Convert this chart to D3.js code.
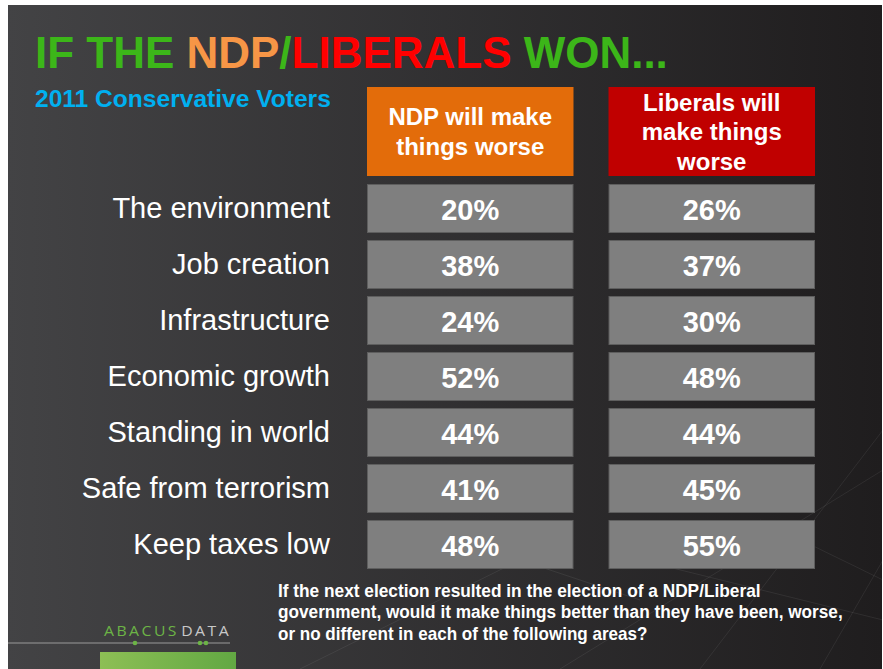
<!DOCTYPE html>
<html>
<head>
<meta charset="utf-8">
<script src="https://cdn.jsdelivr.net/npm/d3@7"></script>
<style>
  body { margin: 0; background: #fff; }
  svg { display: block; }
</style>
</head>
<body>
<div id="chart"></div>
<script>
// data
var categories = ["The environment", "Job creation", "Infrastructure", "Economic growth",
  "Standing in world", "Safe from terrorism", "Keep taxes low"];
var ndpWorse = [20, 38, 24, 52, 44, 41, 48];
var liberalWorse = [26, 37, 30, 48, 44, 45, 55];
var seriesKeys = ["ndp", "lib"];
var seriesHeaders = [["NDP will make", "things worse"], ["Liberals will", "make things", "worse"]];
var seriesColors = ["#e36c0a", "#c00000"];
var footerLines = ["If the next election resulted in the election of a NDP/Liberal",
  "government, would it make things better than they have been, worse,",
  "or no different in each of the following areas?"];

var svgWidth = 883;
var svgHeight = 669;
var font = "'Liberation Sans', Arial, sans-serif";

var svg = d3.select("#chart").append("svg")
  .attr("width", svgWidth)
  .attr("height", svgHeight);

// stretch/squeeze a text horizontally to a given width, around its anchor x
function fitWidth(sel, x, targetWidth) {
  var w = sel.node().getComputedTextLength();
  var s = targetWidth / w;
  sel.attr("transform", `translate(${x},0) scale(${s},1) translate(${-x},0)`);
}

// background gradient
var defs = svg.append("defs");
var bg = defs.append("linearGradient").attr("id", "bg").attr("x1", 0).attr("x2", 1).attr("y1", 0).attr("y2", 0);
bg.append("stop").attr("offset", "0%").attr("stop-color", "#434345");
bg.append("stop").attr("offset", "100%").attr("stop-color", "#1f1d1e");
var logoGrad = defs.append("linearGradient").attr("id", "logoGrad").attr("x1", 0).attr("x2", 1);
logoGrad.append("stop").attr("offset", "0%").attr("stop-color", "#8dbf55");
logoGrad.append("stop").attr("offset", "100%").attr("stop-color", "#62a843");

svg.append("rect")
  .attr("x", 8).attr("y", 5)
  .attr("width", svgWidth - 9).attr("height", svgHeight - 5)
  .attr("fill", "url(#bg)");

// faint network lines in the background
var netLines = [[560, 669, 883, 470], [700, 669, 883, 430], [820, 669, 883, 560],
  [640, 560, 883, 620], [300, 669, 520, 560], [760, 520, 883, 580], [520, 560, 640, 600]];
svg.append("g").selectAll("line")
  .data(netLines)
  .enter().append("line")
  .attr("x1", d => d[0]).attr("y1", d => d[1])
  .attr("x2", d => d[2]).attr("y2", d => d[3])
  .attr("stroke", "#ffffff").attr("stroke-opacity", 0.07).attr("stroke-width", 1);

// title
var title = svg.append("text")
  .attr("x", 35).attr("y", 68)
  .attr("font-family", font)
  .attr("font-weight", "bold")
  .attr("font-size", 44);
title.append("tspan").attr("fill", "#3cb619").text("IF THE ");
title.append("tspan").attr("fill", "#f79646").text("NDP");
title.append("tspan").attr("fill", "#3cb619").text("/");
title.append("tspan").attr("fill", "#ff0000").text("LIBERALS");
title.append("tspan").attr("fill", "#3cb619").text(" WON...");
fitWidth(title, 35, 633);

var subtitle = svg.append("text")
  .attr("x", 35).attr("y", 107)
  .attr("font-family", font)
  .attr("font-weight", "bold")
  .attr("font-size", 23.5)
  .attr("fill", "#00b0f0")
  .text("2011 Conservative Voters");
fitWidth(subtitle, 35, 296);

// scales
var yScale = d3.scaleBand()
  .domain(categories)
  .range([184, 569])
  .paddingInner(0.125);

var xScale = d3.scaleBand()
  .domain(seriesKeys)
  .range([367, 815])
  .paddingInner(0.145);

// header boxes
var headerTop = 87, headerBottom = 176;
var headers = svg.append("g").selectAll("g")
  .data(seriesKeys)
  .enter().append("g");

headers.append("rect")
  .attr("x", d => xScale(d))
  .attr("y", headerTop)
  .attr("width", xScale.bandwidth())
  .attr("height", headerBottom - headerTop)
  .attr("fill", (d, i) => seriesColors[i]);

headers.each(function(d, i) {
  var lines = seriesHeaders[i];
  var lineH = 29.5;
  var mid = (headerTop + headerBottom) / 2;
  var firstBase = mid - (lines.length - 1) * lineH / 2 + 8.5;
  d3.select(this).selectAll("text")
    .data(lines)
    .enter().append("text")
    .attr("x", xScale(d) + xScale.bandwidth() / 2)
    .attr("y", (t, j) => firstBase + j * lineH)
    .attr("text-anchor", "middle")
    .attr("font-family", font)
    .attr("font-weight", "bold")
    .attr("font-size", 24)
    .attr("fill", "#ffffff")
    .text(t => t);
});

// row labels
svg.append("g").selectAll("text")
  .data(categories)
  .enter().append("text")
  .attr("x", 330)
  .attr("y", d => yScale(d) + yScale.bandwidth() / 2 + 9)
  .attr("text-anchor", "end")
  .attr("font-family", font)
  .attr("font-size", 29)
  .attr("fill", "#ffffff")
  .text(d => d);

// value cells
var rows = categories.map(function(c, i) {
  return { cat: c, values: [ndpWorse[i], liberalWorse[i]] };
});

var cells = svg.append("g").selectAll("g")
  .data(rows)
  .enter().append("g");

cells.selectAll("rect")
  .data(d => d.values.map((v, k) => ({ cat: d.cat, key: seriesKeys[k], v: v })))
  .enter().append("rect")
  .attr("x", d => xScale(d.key) + 0.5)
  .attr("y", d => yScale(d.cat) + 0.5)
  .attr("width", xScale.bandwidth() - 1)
  .attr("height", yScale.bandwidth() - 1)
  .attr("fill", "#7f7f7f")
  .attr("stroke", "#5e5e5e")
  .attr("stroke-width", 1);

cells.selectAll("text")
  .data(d => d.values.map((v, k) => ({ cat: d.cat, key: seriesKeys[k], v: v })))
  .enter().append("text")
  .attr("x", d => xScale(d.key) + xScale.bandwidth() / 2)
  .attr("y", d => yScale(d.cat) + yScale.bandwidth() / 2 + 11)
  .attr("text-anchor", "middle")
  .attr("font-family", font)
  .attr("font-weight", "bold")
  .attr("font-size", 29)
  .attr("fill", "#ffffff")
  .text(d => d.v + "%");

// question text
var footerLen = [483, 565, 370];
svg.append("g").selectAll("text")
  .data(footerLines)
  .enter().append("text")
  .attr("x", 278)
  .attr("y", (d, i) => 597 + i * 21.5)
  .attr("font-family", font)
  .attr("font-weight", "bold")
  .attr("font-size", 17.5)
  .attr("fill", "#ffffff")
  .text(d => d)
  .each(function(d, i) { fitWidth(d3.select(this), 278, footerLen[i]); });

// logo
var logo = svg.append("g");
var logoText = logo.append("text")
  .attr("x", 104).attr("y", 636)
  .attr("font-family", "'Open Sans', 'Liberation Sans', Arial, sans-serif")
  .attr("font-size", 14)
  .attr("letter-spacing", 2.2);
logoText.append("tspan").attr("fill", "#6cb446").text("ABACUS");
logoText.append("tspan").attr("fill", "#c8c8c8").attr("dx", 2).text("DATA");
fitWidth(logoText, 104, 125);

logo.append("line")
  .attr("x1", 8).attr("x2", 230).attr("y1", 643).attr("y2", 643)
  .attr("stroke", "#9a9a9a").attr("stroke-width", 1.2);
logo.selectAll("circle")
  .data([135, 200, 206])
  .enter().append("circle")
  .attr("cx", d => d).attr("cy", 643).attr("r", 2.3)
  .attr("fill", "#6cb446");
logo.append("rect")
  .attr("x", 100).attr("y", 652)
  .attr("width", 136).attr("height", 20)
  .attr("fill", "url(#logoGrad)");
</script>
</body>
</html>
